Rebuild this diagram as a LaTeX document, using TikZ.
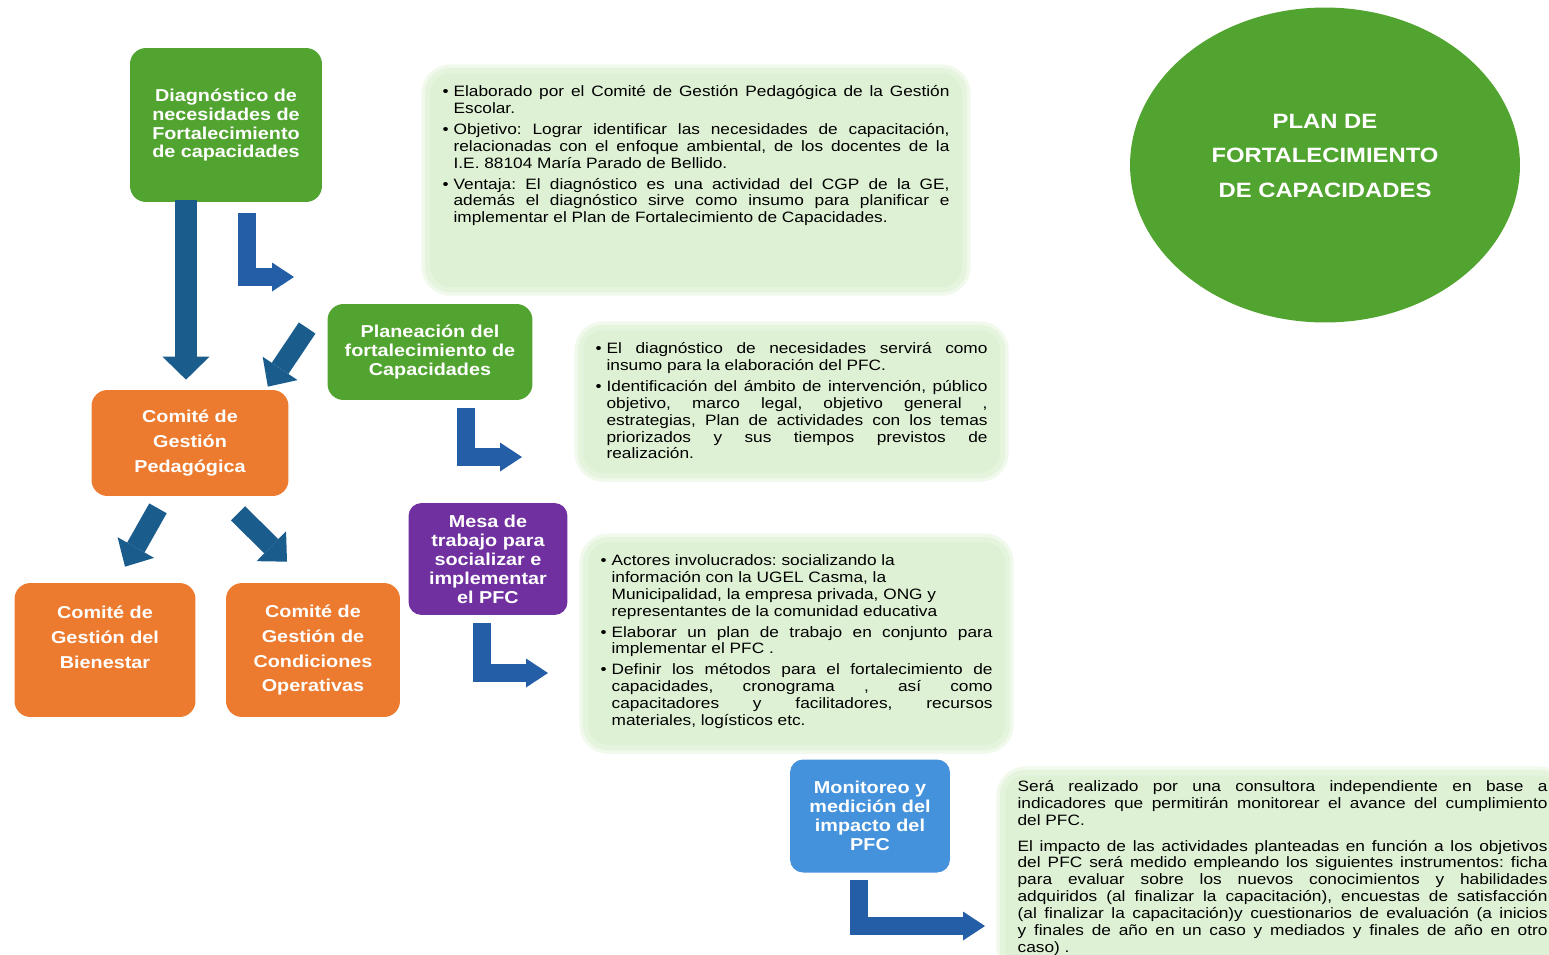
\documentclass[tikz,border=0pt]{standalone}
\usepackage{fontspec}
\setmainfont{Liberation Sans}[FakeStretch=1.15]
\usetikzlibrary{arrows.meta,shapes.geometric,calc}
\definecolor{pfc-green}{RGB}{82,164,48}
\definecolor{pfc-orange}{RGB}{236,123,48}
\definecolor{pfc-purple}{RGB}{112,48,160}
\definecolor{pfc-sky}{RGB}{68,146,220}
\definecolor{pfc-light}{RGB}{222,241,212}
\definecolor{pfc-teal}{RGB}{26,92,140}
\definecolor{pfc-blue}{RGB}{36,94,166}
\hyphenpenalty=10000
\exhyphenpenalty=10000
\hbadness=10000
\frenchspacing

% bullet paragraph for the light boxes
\newcommand{\pfcitem}[1]{\par\hangindent=0.22cm\hangafter=1\noindent\makebox[0.22cm][l]{\textbullet}#1\par\vspace{2.3pt}}

\begin{document}
\begin{tikzpicture}[x=0.02cm, y=-0.02cm,
    colbox/.style={rounded corners=0.32cm, text=white, align=center, inner sep=0,
        font=\fontsize{9.8}{10.8}\selectfont\bfseries},
    cgbox/.style={colbox, fill=pfc-orange, font=\fontsize{9.8}{14.2}\selectfont\bfseries},
    infobox/.style={fill=pfc-light, draw=pfc-light!80, line width=3pt, rounded corners=0.45cm,
        preaction={draw=pfc-light!45, line width=7pt},
        inner sep=0.3cm, anchor=north west, font=\fontsize{8.55}{9.6}\selectfont},
    tealarrow/.style={draw=pfc-teal, line width=0.44cm,
        -{Triangle[width=0.94cm,length=0.46cm,line width=0pt]}},
    slantarrow/.style={draw=pfc-teal, line width=0.4cm,
        -{Triangle[width=0.84cm,length=0.44cm,line width=0pt]}},
    larrow/.style={draw=pfc-blue, line width=0.36cm, line join=miter,
        -{Triangle[width=0.58cm,length=0.44cm,line width=0pt]}}]

    \useasboundingbox (0,0) rectangle (1549,954);
    \clip (0,0) rectangle (1549,954);

    % title
    \node[ellipse, fill=pfc-green, minimum width=7.8cm, minimum height=6.3cm, inner sep=0,
        text=white, font=\fontsize{11.8}{19.6}\selectfont\bfseries]
        (title) at (1325,165) {\raisebox{0.08cm}[0pt][0pt]{\parbox{5cm}{\centering PLAN DE\\FORTALECIMIENTO\\DE CAPACIDADES}}};

    % stages
    \node[colbox, fill=pfc-green, minimum width=3.84cm, minimum height=3.08cm]
        (diag) at (226,125) {Diagnóstico de\\necesidades de\\Fortalecimiento\\de capacidades};
    \node[colbox, fill=pfc-green, minimum width=4.1cm, minimum height=1.92cm]
        (plan) at (430,352) {Planeación del\\fortalecimiento de\\Capacidades};
    \node[colbox, fill=pfc-purple, minimum width=3.18cm, minimum height=2.24cm, rounded corners=0.26cm]
        (mesa) at (488,559) {Mesa de\\trabajo para\\socializar e\\implementar\\el PFC};
    \node[colbox, fill=pfc-sky, minimum width=3.2cm, minimum height=2.26cm, rounded corners=0.26cm]
        (moni) at (870,816) {Monitoreo y\\medición del\\impacto del\\PFC};

    % committees
    \node[cgbox, minimum width=3.94cm, minimum height=2.12cm]
        (cgp) at (190,443) {Comité de\\Gestión\\Pedagógica};
    \node[cgbox, minimum width=3.62cm, minimum height=2.68cm]
        (cgb) at (105,650) {Comité de\\Gestión del\\Bienestar\\\mbox{}};
    \node[cgbox, minimum width=3.48cm, minimum height=2.68cm]
        (cgco) at (313,650) {Comité de\\Gestión de\\Condiciones\\Operativas};

    % light boxes
    \node[infobox] (info1) at (425,68) {\parbox[c][3.78cm][t]{10.14cm}{%
        \pfcitem{Elaborado por el Comité de Gestión Pedagógica de la Gestión\linebreak Escolar.}
        \pfcitem{Objetivo: Lograr identificar las necesidades de capacitación,\linebreak relacionadas con el enfoque ambiental, de los docentes de la\linebreak I.E. 88104 María Parado de Bellido.}
        \pfcitem{Ventaja: El diagnóstico es una actividad del CGP de la GE,\linebreak además el diagnóstico sirve como insumo para planificar e\linebreak implementar el Plan de Fortalecimiento de Capacidades.}}};
    \node[infobox] (info2) at (578,325) {\parbox[c][2.36cm][t]{7.84cm}{%
        \pfcitem{El diagnóstico de necesidades servirá como\linebreak insumo para la elaboración del PFC.}
        \pfcitem{Identificación del ámbito de intervención, público\linebreak objetivo, marco legal, objetivo general~,\linebreak estrategias, Plan de actividades con los temas\linebreak priorizados y sus tiempos previstos de\linebreak realización.}}};
    \node[infobox] (info3) at (583,537) {\parbox[c][3.56cm][t]{7.84cm}{%
        \pfcitem{Actores involucrados: socializando la\\información con la UGEL Casma, la\\Municipalidad, la empresa privada, ONG y\\representantes de la comunidad educativa}
        \pfcitem{Elaborar un plan de trabajo en conjunto para\linebreak implementar el PFC~.}
        \pfcitem{Definir los métodos para el fortalecimiento de\linebreak capacidades, cronograma~, así como\linebreak capacitadores y facilitadores, recursos\linebreak materiales, logísticos etc.}}};
    \node[infobox, inner ysep=0.16cm] (info4) at (1000,770) {\parbox[c][3.7cm][t]{10.6cm}{%
        Será realizado por una consultora independiente en base a\linebreak indicadores que permitirán monitorear el avance del cumplimiento\linebreak del PFC.\par\vspace{5pt}
        El impacto de las actividades planteadas en función a los objetivos\linebreak del PFC será medido empleando los siguientes instrumentos: ficha\linebreak para evaluar sobre los nuevos conocimientos y habilidades\linebreak adquiridos (al finalizar la capacitación), encuestas de satisfacción\linebreak (al finalizar la capacitación)y cuestionarios de evaluación (a inicios\linebreak y finales de año en un caso y mediados y finales de año en otro\linebreak caso)~.}};

    % arrows between boxes
    \draw[tealarrow] ($(diag.south)+(-40,-2)$) -- ($(cgp.north)+(-4,-10)$);
    \draw[slantarrow] ($(plan.west)+(-20,-24)$) -- ($(cgp.north east)+(-21,-3)$);
    \draw[slantarrow] ($(cgp.south)+(-32,12)$) -- ($(cgb.north)+(20,-16)$);
    \draw[slantarrow] ($(cgp.south)+(48,17)$) -- ($(cgco.north)+(-26,-21)$);

    % L arrows towards the light boxes
    \coordinate (l1a) at (247,213);
    \coordinate (l1b) at (294,277);
    \coordinate (l2a) at (466,408);
    \coordinate (l2b) at (522,457);
    \coordinate (l3a) at (482,623);
    \coordinate (l3b) at (548,673);
    \coordinate (l4a) at (859,880);
    \coordinate (l4b) at (985,926);
    \draw[larrow] (l1a) |- (l1b);
    \draw[larrow] (l2a) |- (l2b);
    \draw[larrow] (l3a) |- (l3b);
    \draw[larrow] (l4a) |- (l4b);

\end{tikzpicture}
\end{document}
